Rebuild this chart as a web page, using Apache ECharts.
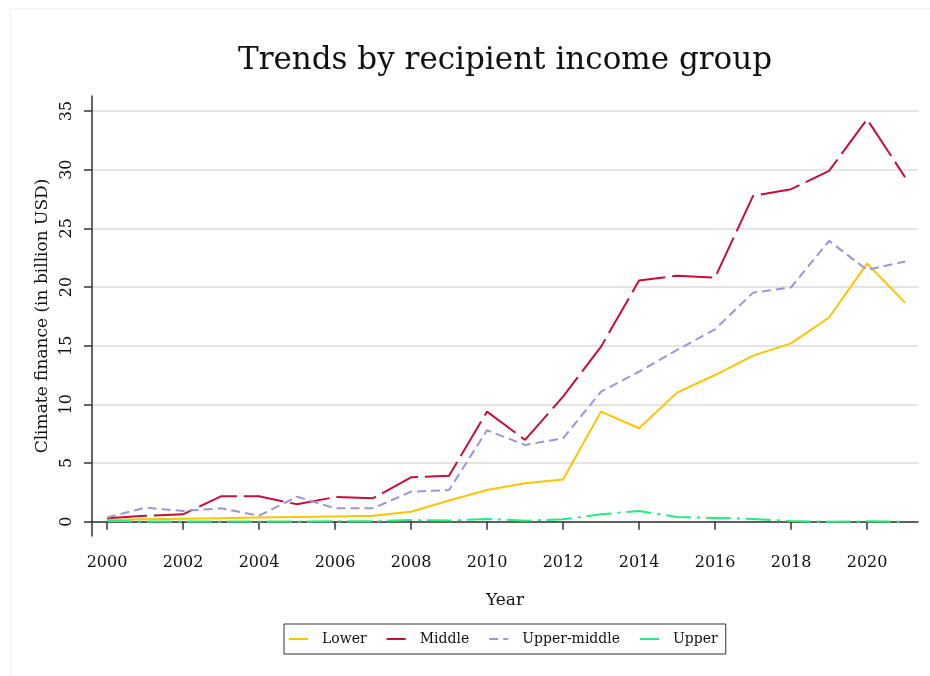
<!DOCTYPE html>
<html>
<head>
<meta charset="utf-8">
<script src="https://cdn.jsdelivr.net/npm/echarts@6/dist/echarts.min.js"></script>
<style>html,body{margin:0;padding:0;background:#fff}#c{width:930px;height:676px}</style>
</head>
<body>
<div id="c"></div>
<script>
var years = [2000,2001,2002,2003,2004,2005,2006,2007,2008,2009,2010,2011,2012,2013,2014,2015,2016,2017,2018,2019,2020,2021];
var lower = [0.15,0.2,0.25,0.3,0.35,0.4,0.45,0.5,0.85,1.8,2.7,3.27,3.6,9.38,7.96,11.0,12.5,14.15,15.2,17.4,22.0,18.67];
var middle = [0.3,0.5,0.63,2.16,2.16,1.48,2.1,2.0,3.78,3.92,9.38,6.97,10.66,14.92,20.55,20.97,20.8,27.77,28.34,29.9,34.3,29.36];
var upperMiddle = [0.35,1.2,0.91,1.14,0.51,2.13,1.14,1.14,2.56,2.7,7.79,6.54,7.11,11.08,12.79,14.64,16.4,19.52,19.98,23.93,21.46,22.17];
var upper = [0.05,0.02,0.02,0.02,0.02,0.02,0.03,0.03,0.14,0.1,0.23,0.09,0.2,0.63,0.91,0.4,0.32,0.23,0.05,0.0,0.03,0.0];
var xTicks = [2000,2002,2004,2006,2008,2010,2012,2014,2016,2018,2020];
var yTicks = [0,5,10,15,20,25,30,35];
var seriesNames = ['Lower','Middle','Upper-middle','Upper'];

function pairs(vals){ return years.map(function(y,i){ return [y, vals[i]]; }); }

var FONT = 'DejaVu Serif';
var chart = echarts.init(document.getElementById('c'), null, {renderer:'canvas'});
chart.setOption({
  backgroundColor: '#fff',
  animation: false,
  textStyle: {fontFamily: FONT},
  graphic: [{type:'rect', shape:{x:10,y:9,width:940,height:700}, style:{fill:'none', stroke:'#eeeeee', lineWidth:1}, silent:true}],
  title: {
    text: 'Trends by recipient income group',
    left: 500, top: 40, textAlign: 'center',
    textStyle: {fontFamily: FONT, fontWeight: 'normal', fontSize: 31, color: '#111'}
  },
  grid: {left: 92, right: 12, top: 96, bottom: 140, containLabel: false},
  legend: {
    left: 284, top: 624,
    data: seriesNames,
    itemWidth: 19, itemHeight: 12, itemGap: 19,
    padding: [8, 8, 8, 4],
    borderColor: '#333', borderWidth: 1,
    itemStyle: {color: 'transparent', borderWidth: 0, opacity: 0},
    textStyle: {fontFamily: FONT, fontSize: 14, color: '#111', padding: [0,0,0,9]}
  },
  xAxis: {
    type: 'value', min: 1999.605, max: 2021.34,
    name: 'Year', nameLocation: 'middle', nameGap: 56,
    nameTextStyle: {fontFamily: FONT, fontSize: 17, color: '#111'},
    axisLine: {show: true, lineStyle: {color: '#333', width: 1.5}},
    axisTick: {show: true, length: 8, lineStyle: {color: '#333', width: 1.5}, customValues: xTicks},
    axisLabel: {customValues: xTicks, formatter: function(v){ return String(v); }, fontFamily: FONT, fontSize: 16, color: '#111', margin: 19},
    splitLine: {show: false}
  },
  yAxis: {
    type: 'value', min: -1.22, max: 36.28,
    name: 'Climate finance (in billion USD)', nameLocation: 'middle', nameGap: 37,
    nameTextStyle: {fontFamily: FONT, fontSize: 17, color: '#111'},
    axisLine: {show: true, lineStyle: {color: '#333', width: 1.5}},
    axisTick: {show: true, length: 8, lineStyle: {color: '#333', width: 1.5}, customValues: yTicks},
    axisLabel: {customValues: yTicks, rotate: 90, fontFamily: FONT, fontSize: 16, color: '#111', margin: 17},
    splitLine: {show: true, lineStyle: {color: '#e4e4e4', width: 2}}
  },
  series: [
    {name: 'Lower', type: 'line', data: pairs(lower), symbol: 'none', color: '#fcc500',
     lineStyle: {width: 2, color: '#fcc500'}},
    {name: 'Middle', type: 'line', data: pairs(middle), symbol: 'none', color: '#c80d3a',
     lineStyle: {width: 2, color: '#c80d3a', type: [40, 7]}},
    {name: 'Upper-middle', type: 'line', data: pairs(upperMiddle), symbol: 'none', color: '#9c95d8',
     lineStyle: {width: 2, color: '#9c95d8', type: [9, 5]}},
    {name: 'Upper', type: 'line', data: pairs(upper), symbol: 'none', color: '#1ef07a',
     lineStyle: {width: 2, color: '#1ef07a', type: [25, 6, 3, 6]}}
  ]
});
</script>
</body>
</html>
